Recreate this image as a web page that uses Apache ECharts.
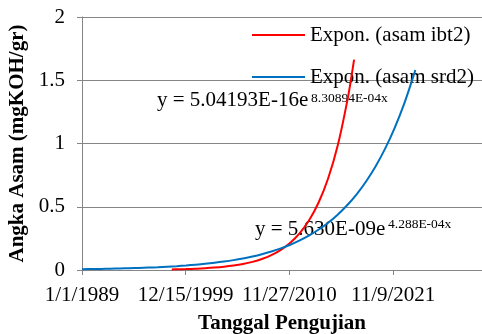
<!DOCTYPE html>
<html>
<head>
<meta charset="utf-8">
<script src="https://cdn.jsdelivr.net/npm/echarts@6/dist/echarts.min.js"></script>
<style>
  html, body { margin: 0; padding: 0; background: #fff; }
  #chart { width: 482px; height: 334px; }
</style>
</head>
<body>
<div id="chart"></div>
<script>
// Exponential trend of acid number (Angka Asam) over test date, two transformers.
const ibt2Dates = ['1998-06-24', '1999-01-01', '2000-01-01', '2001-01-01', '2002-01-01', '2003-01-01',
  '2004-01-01', '2005-01-01', '2006-01-01', '2007-01-01', '2008-01-01', '2009-01-01', '2010-01-01',
  '2011-01-01', '2012-01-01', '2013-01-01', '2014-01-01', '2015-01-01', '2016-01-01', '2017-01-01',
  '2017-05-01', '2017-09-26'];
const ibt2Values = [0.0048, 0.0056, 0.0076, 0.0104, 0.0140, 0.0190, 0.0257, 0.0349, 0.0472, 0.0640,
  0.0866, 0.1174, 0.1590, 0.2153, 0.2916, 0.3952, 0.5353, 0.7249, 0.9818, 1.3307, 1.4702, 1.6626];

const srd2Dates = ['1989-01-01', '1990-01-01', '1991-01-01', '1992-01-01', '1993-01-01', '1994-01-01',
  '1995-01-01', '1996-01-01', '1997-01-01', '1998-01-01', '1999-01-01', '2000-01-01', '2001-01-01',
  '2002-01-01', '2003-01-01', '2004-01-01', '2005-01-01', '2006-01-01', '2007-01-01', '2008-01-01',
  '2009-01-01', '2010-01-01', '2011-01-01', '2012-01-01', '2013-01-01', '2014-01-01', '2015-01-01',
  '2016-01-01', '2017-01-01', '2018-01-01', '2019-01-01', '2020-01-01', '2021-01-01', '2022-01-01',
  '2023-01-01', '2024-01-01', '2024-03-15'];
const srd2Values = [0.0064, 0.0075, 0.0087, 0.0102, 0.0119, 0.0140, 0.0163, 0.0191, 0.0223, 0.0261,
  0.0305, 0.0357, 0.0418, 0.0488, 0.0571, 0.0668, 0.0781, 0.0914, 0.1069, 0.1250, 0.1462, 0.1710,
  0.1999, 0.2338, 0.2735, 0.3199, 0.3741, 0.4374, 0.5117, 0.5984, 0.6999, 0.8184, 0.9574, 1.1196,
  1.3093, 1.5313, 1.5806];

const seriesNames = ['Expon. (asam ibt2)', 'Expon. (asam srd2)'];
const equations = [
  { base: 'y = 5.04193E-16e', exp: '8.30894E-04x' },
  { base: 'y = 5.630E-09e', exp: '4.288E-04x' }
];
const yTicks = { min: 0, max: 2, step: 0.5 };

// Spreadsheet-style day serials (days since 1899-12-30)
const EPOCH = Date.UTC(1899, 11, 30);
function toSerial(s) {
  const p = s.split('-').map(Number);
  return Math.round((Date.UTC(p[0], p[1] - 1, p[2]) - EPOCH) / 86400000);
}
function serialLabel(v) {
  const d = new Date(EPOCH + v * 86400000);
  return (d.getUTCMonth() + 1) + '/' + d.getUTCDate() + '/' + d.getUTCFullYear();
}
const xStart = toSerial('1989-01-01');
const xStep = 4000;

const FONT = 'Liberation Serif';
const chart = echarts.init(document.getElementById('chart'));

function pairs(dates, vals) { return dates.map((d, i) => [toSerial(d), vals[i]]); }

chart.setOption({
  animation: false,
  textStyle: { fontFamily: FONT },
  grid: { left: 82, right: 0, top: 17, bottom: 64, containLabel: false, outerBoundsMode: 'none' },
  xAxis: {
    type: 'value',
    min: xStart,
    max: 47938,
    interval: xStep,
    name: 'Tanggal Pengujian',
    nameLocation: 'middle',
    nameGap: 43,
    nameTextStyle: { fontFamily: FONT, fontSize: 21, fontWeight: 'bold', color: '#000' },
    axisLine: { show: true, lineStyle: { color: '#868686', width: 1 } },
    axisTick: { show: true, length: 5, lineStyle: { color: '#868686' } },
    splitLine: { show: false },
    axisLabel: {
      fontFamily: FONT, fontSize: 21, color: '#000', margin: 15,
      showMaxLabel: false,
      formatter: serialLabel
    }
  },
  yAxis: {
    type: 'value',
    min: yTicks.min,
    max: yTicks.max,
    interval: yTicks.step,
    name: 'Angka Asam (mgKOH/gr)',
    nameLocation: 'middle',
    nameRotate: 90,
    nameGap: 50,
    nameTextStyle: { fontFamily: FONT, fontSize: 21, fontWeight: 'bold', color: '#000' },
    axisLine: { show: true, lineStyle: { color: '#868686', width: 1 } },
    axisTick: { show: true, length: 5, lineStyle: { color: '#868686' } },
    splitLine: { show: true, lineStyle: { color: '#868686', width: 1 } },
    axisLabel: { fontFamily: FONT, fontSize: 21, color: '#000', margin: 17 }
  },
  legend: {
    orient: 'vertical',
    left: 252,
    top: 24,
    padding: 0,
    icon: 'rect',
    itemWidth: 53,
    itemHeight: 2,
    itemGap: 20,
    z: 1,
    textStyle: { fontFamily: FONT, fontSize: 21, lineHeight: 22, color: '#000' },
    data: seriesNames
  },
  graphic: [
    { type: 'text', left: 157, top: 90, z: 1, style: { text: equations[0].base, font: '21px "Liberation Serif"', fill: '#000' } },
    { type: 'text', left: 311, top: 91, z: 1, style: { text: equations[0].exp, font: '13.5px "Liberation Serif"', fill: '#000' } },
    { type: 'text', left: 255, top: 219, z: 1, style: { text: equations[1].base, font: '21px "Liberation Serif"', fill: '#000' } },
    { type: 'text', left: 388, top: 217, z: 1, style: { text: equations[1].exp, font: '13.5px "Liberation Serif"', fill: '#000' } }
  ],
  series: [
    {
      name: seriesNames[0], type: 'line', data: pairs(ibt2Dates, ibt2Values),
      symbol: 'none', smooth: 0.4, z: 3,
      color: '#FF0000', lineStyle: { color: '#FF0000', width: 2 }
    },
    {
      name: seriesNames[1], type: 'line', data: pairs(srd2Dates, srd2Values),
      symbol: 'none', smooth: 0.4, z: 3,
      color: '#0070C0', lineStyle: { color: '#0070C0', width: 2 }
    }
  ]
});
</script>
</body>
</html>
